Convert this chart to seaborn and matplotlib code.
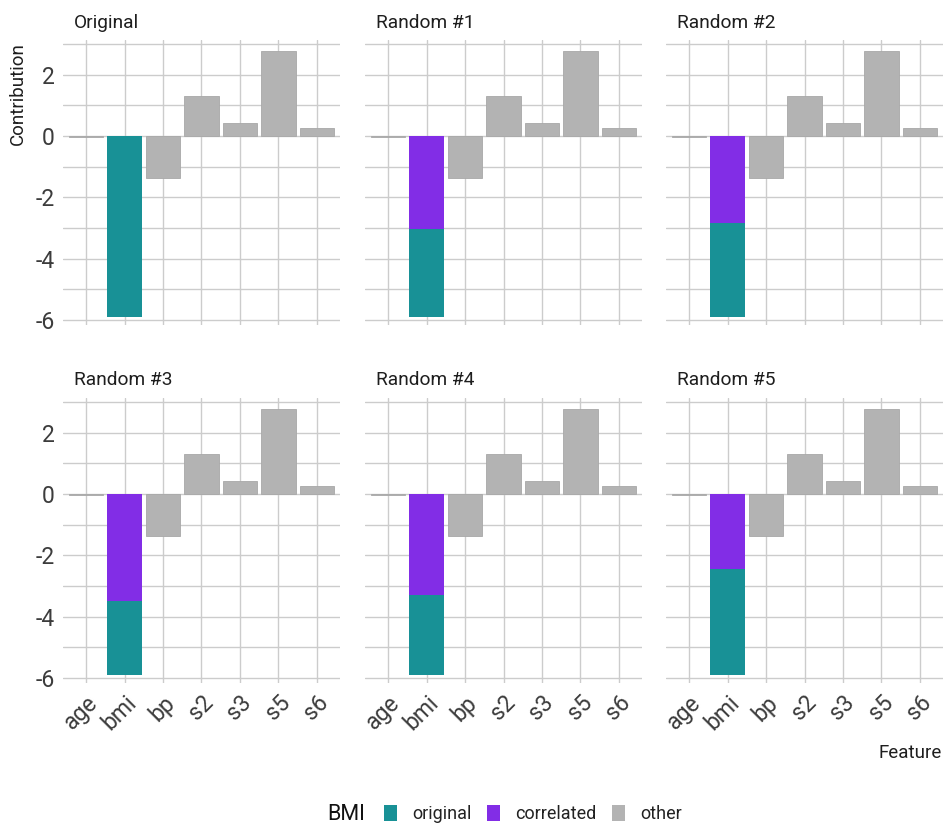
import numpy as np
import pandas as pd
import matplotlib
matplotlib.use("Agg")
import matplotlib.pyplot as plt
import matplotlib.patches as mpatches
from matplotlib.offsetbox import HPacker
import seaborn as sns

# ---- data ----
features = ["age", "bmi", "bp", "s2", "s3", "s5", "s6"]
other_values = [-0.04, None, -1.37, 1.31, 0.42, 2.78, 0.27]
bmi_total = -5.9
panels = ["Original", "Random #1", "Random #2", "Random #3", "Random #4", "Random #5"]
bmi_correlated = [0.0, -3.03, -2.85, -3.50, -3.30, -2.45]
types = ["original", "correlated", "other"]
colors = {"original": "#189196", "correlated": "#822DE6", "other": "#B3B3B3"}

sns.set_theme(style="whitegrid")
plt.rcParams["font.family"] = ["Roboto", "DejaVu Sans"]

fig = plt.figure(figsize=(9.48, 8.31), dpi=100)
W, H = 948, 831
lefts = [63, 365, 666]
tops = [40, 398]
pw, ph = 277, 285

for i, panel in enumerate(panels):
    r, c = divmod(i, 3)
    ax = fig.add_axes([lefts[c] / W, 1 - (tops[r] + ph) / H, pw / W, ph / H])
    rows = []
    for f, v in zip(features, other_values):
        if f == "bmi":
            rows.append({"feature": f, "value": bmi_total, "type": "original"})
        else:
            rows.append({"feature": f, "value": v, "type": "other"})
    df = pd.DataFrame(rows)
    sns.barplot(data=df, x="feature", y="value", hue="type", order=features,
                hue_order=["original", "other"], palette=colors, dodge=False,
                width=0.9, legend=False, ax=ax, linewidth=0.6,
                edgecolor="#a8a8a8", saturation=1)
    if bmi_correlated[i] != 0:
        cdf = pd.DataFrame({"feature": ["bmi"], "value": [bmi_correlated[i]],
                            "type": ["correlated"]})
        sns.barplot(data=cdf, x="feature", y="value", hue="type", order=features,
                    palette=colors, dodge=False, width=0.9, legend=False, ax=ax,
                    linewidth=0, saturation=1)
    for p in ax.patches:
        fc = p.get_facecolor()
        if abs(fc[0] - 0.70) > 0.02:
            p.set_edgecolor("none")
    ax.set_xlim(-0.6, 6.6)
    ax.set_ylim(-6.16, 3.13)
    ax.set_yticks([-6, -4, -2, 0, 2])
    ax.set_yticklabels(["-6", "-4", "-2", "0", "2"])
    ax.set_yticks([-5, -3, -1, 1, 3], minor=True)
    ax.grid(True, which="both", axis="y", color="#cccccc", linewidth=1.0)
    ax.grid(True, which="major", axis="x", color="#cccccc", linewidth=1.0)
    ax.set_axisbelow(True)
    for s in ax.spines.values():
        s.set_visible(False)
    ax.set_facecolor("white")
    ax.tick_params(length=0, labelsize=16.5, labelcolor="#3c3c3c", pad=6)
    ax.set_xlabel("")
    ax.set_ylabel("")
    ax.set_title(panel, loc="left", fontsize=13.8, color="#1e1e1e", pad=9, x=0.04)
    if c != 0:
        ax.set_yticklabels([])
    if r == 0:
        ax.set_xticklabels([])
    else:
        ax.set_xticks(range(len(features)))
        ax.set_xticklabels(features, rotation=45, ha="right", va="top",
                           rotation_mode="anchor")

fig.text(18 / W, 1 - 145 / H, "Contribution", rotation=90, fontsize=13.5,
         color="#1e1e1e", ha="center", va="bottom")
fig.text(942 / W, 1 - 753 / H, "Feature", fontsize=13.5, color="#1e1e1e",
         ha="right", va="center")

handles = [mpatches.Patch(facecolor=colors[t], edgecolor="none", label=t) for t in types]
leg = fig.legend(handles=handles, labels=types, loc="center", ncol=3,
                 bbox_to_anchor=(0.532, 1 - 814 / H), frameon=False, fontsize=13,
                 handlelength=0.72, handleheight=0.95, handletextpad=0.8,
                 columnspacing=0.9, title="BMI", title_fontsize=15.5)
leg.get_title().set_color("#111111")
vp = leg._legend_box
children = vp.get_children()
title_box, entries = children[0], children[1]
vp._children = [HPacker(pad=0, sep=14, children=[title_box, entries], align="center")]
for t in leg.get_texts():
    t.set_color("#222222")

fig.savefig("out.png", dpi=100, facecolor="white")
